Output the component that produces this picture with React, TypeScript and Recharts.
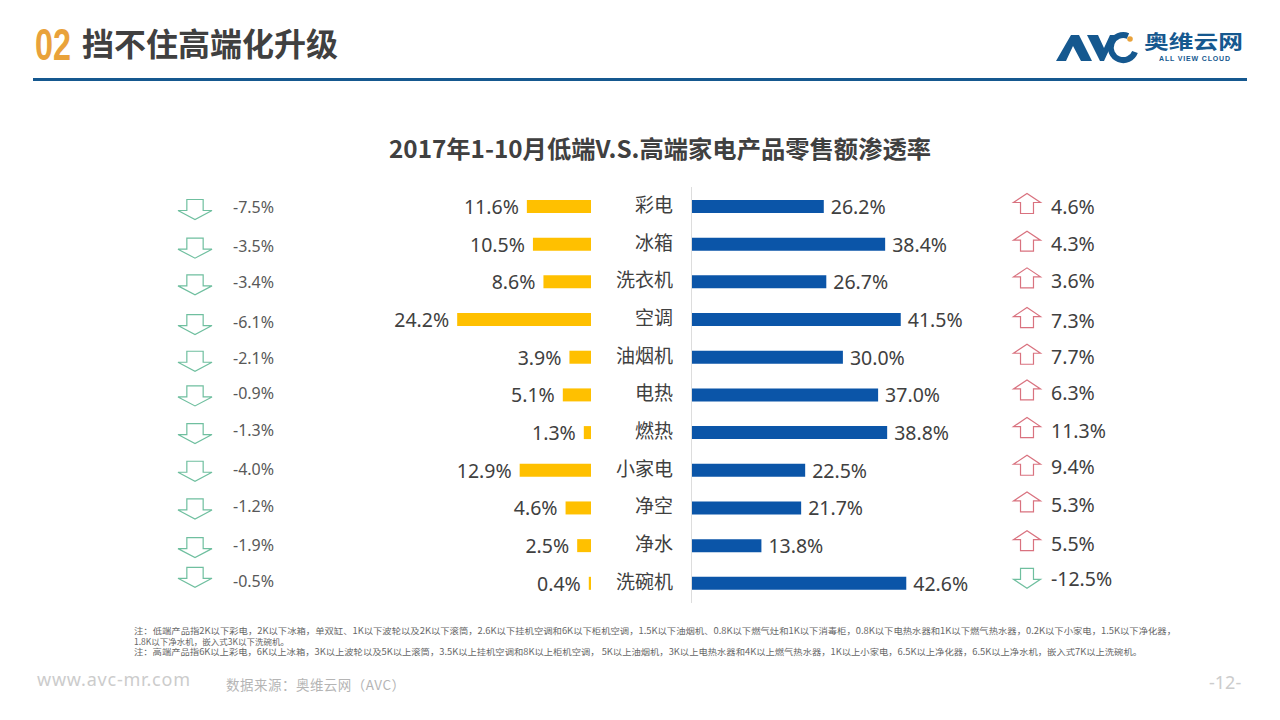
import React from "react";
import { BarChart, Bar, XAxis, YAxis, LabelList } from "recharts";

const categories = ["彩电", "冰箱", "洗衣机", "空调", "油烟机", "电热", "燃热", "小家电", "净空", "净水", "洗碗机"];
const lowShare = [11.6, 10.5, 8.6, 24.2, 3.9, 5.1, 1.3, 12.9, 4.6, 2.5, 0.4];
const highShare = [26.2, 38.4, 26.7, 41.5, 30.0, 37.0, 38.8, 22.5, 21.7, 13.8, 42.6];
const lowChange = [-7.5, -3.5, -3.4, -6.1, -2.1, -0.9, -1.3, -4.0, -1.2, -1.9, -0.5];
const highChange = [4.6, 4.3, 3.6, 7.3, 7.7, 6.3, 11.3, 9.4, 5.3, 5.5, -12.5];

const notes = [
  "注：低端产品指2K以下彩电，2K以下冰箱，单双缸、1K以下波轮以及2K以下滚筒，2.6K以下挂机空调和6K以下柜机空调，1.5K以下油烟机、0.8K以下燃气灶和1K以下消毒柜，0.8K以下电热水器和1K以下燃气热水器，0.2K以下小家电，1.5K以下净化器，",
  "1.8K以下净水机，嵌入式3K以下洗碗机。",
  "注：高端产品指6K以上彩电，6K以上冰箱，3K以上波轮以及5K以上滚筒，3.5K以上挂机空调和8K以上柜机空调，  5K以上油烟机，3K以上电热水器和4K以上燃气热水器，1K以上小家电，6.5K以上净化器，6.5K以上净水机，嵌入式7K以上洗碗机。",
];

const lowData = categories.map((name, i) => ({ name, share: lowShare[i], change: lowChange[i] }));
const highData = categories.map((name, i) => ({ name, share: highShare[i], change: highChange[i] }));

// Hand-placement drift of the slide's annotations, relative to each row centre.
const leftArrowDrift = [3, 4, 3, 5, 4, 1, 1, 1, 1, 2, -6];
const leftTextDrift = [1, 2, 1, 3, 1, -1, -2, -1, -1, 0, -2];
const rightArrowDrift = [-3, -3, -4, -2, -3, -5, -5, -5, -6, -5, -5];
const rightTextDrift = [0, 0, -1, 1, 0, -2, -2, -3, -3, -2, -4];

const FONT = '"Noto Sans", "Noto Sans CJK SC", sans-serif';
const CJK = '"Noto Sans CJK SC", sans-serif';
const INK = "#404040";
const UP = "#D9727F";
const DOWN = "#6FBF9F";

function Arrow({ cx, cy, up, w }: { cx: number; cy: number; up: boolean; w: number }) {
  const s = up ? -1 : 1;
  const hw = w / 2;
  const st = w * 0.24;
  const pts = [
    [cx - st, cy - 10 * s],
    [cx + st, cy - 10 * s],
    [cx + st, cy + 1 * s],
    [cx + hw, cy + 1 * s],
    [cx, cy + 10 * s],
    [cx - hw, cy + 1 * s],
    [cx - st, cy + 1 * s],
  ]
    .map((p) => p.join(","))
    .join(" ");
  return <polygon points={pts} fill="#fff" stroke={up ? UP : DOWN} strokeWidth={1.2} />;
}

const pct = (v: number) => `${v.toFixed(1)}%`;

function LeftValue(p: any) {
  const edge = Math.min(p.x, p.x + p.width);
  return (
    <text x={edge - 8} y={p.y + p.height / 2 + 7.5} textAnchor="end" fontFamily={FONT} fontSize={19.5} fill={INK}>
      {pct(p.value)}
    </text>
  );
}
function LeftChange(p: any) {
  const c = p.y + p.height / 2;
  return (
    <g>
      <Arrow cx={195} cy={c + leftArrowDrift[p.index]} up={false} w={34} />
      <text x={233} y={c + leftTextDrift[p.index] + 5.5} fontFamily={FONT} fontSize={16} fill="#595959">
        {pct(p.value)}
      </text>
    </g>
  );
}
function RightValue(p: any) {
  return (
    <text x={p.x + p.width + 7} y={p.y + p.height / 2 + 7.5} fontFamily={FONT} fontSize={19.5} fill={INK}>
      {pct(p.value)}
    </text>
  );
}
function RightChange(p: any) {
  const c = p.y + p.height / 2;
  return (
    <g>
      <Arrow cx={427} cy={c + rightArrowDrift[p.index]} up={p.value > 0} w={27} />
      <text x={451} y={c + rightTextDrift[p.index] + 7} fontFamily={FONT} fontSize={19.5} fill={INK}>
        {pct(p.value)}
      </text>
    </g>
  );
}
function CategoryTick(p: any) {
  return (
    <text x={73} y={p.y + 5} textAnchor="end" fontFamily={CJK} fontSize={19} fill={INK}>
      {p.payload.value}
    </text>
  );
}

function Decor() {
  return (
    <svg width={1280} height={720} style={{ position: "absolute", left: 0, top: 0 }}>
      <text x={35} y={60} fontFamily='"Liberation Sans Narrow", "Liberation Sans", sans-serif' fontWeight={700} fontSize={45} fill="#E9A23B" textLength={36} lengthAdjust="spacingAndGlyphs">
        02
      </text>
      <text x={82} y={56} fontFamily={CJK} fontWeight={700} fontSize={32} fill={INK}>
        挡不住高端化升级
      </text>
      <rect x={33} y={78} width={1214} height={3} fill="#15588F" />

      <polygon points="1056,61 1071,35 1079,35 1092,61 1081,61 1073,46 1066,61" fill="#15588F" />
      <polygon points="1087,35 1098,35 1104,48 1110,35 1116,35 1104,61 1100,61" fill="#15588F" />
      <path d="M1128 36 A 12.5 12.5 0 1 0 1135 52" fill="none" stroke="#15588F" strokeWidth={6} />
      <circle cx={1130} cy={39} r={2.8} fill="#E9A23B" />
      <text x={1144} y={49} fontFamily={CJK} fontWeight={700} fontSize={19} fill="#15588F" textLength={99} lengthAdjust="spacingAndGlyphs">
        奥维云网
      </text>
      <text x={1159} y={61} fontFamily='"Liberation Sans", sans-serif' fontWeight={700} fontSize={7} fill="#15588F" textLength={71}>
        ALL VIEW CLOUD
      </text>

      <text x={660} y={158} textAnchor="middle" fontFamily={CJK} fontWeight={700} fontSize={24.3} fill={INK}>
        2017年1-10月低端V.S.高端家电产品零售额渗透率
      </text>

      <line x1={691.5} y1={187} x2={691.5} y2={603} stroke="#DDDDDD" strokeWidth={1} />

      <text x={134} y={634} fontFamily={CJK} fontSize={8.5} fill="#666" textLength={1042} lengthAdjust="spacingAndGlyphs">
        {notes[0]}
      </text>
      <text x={134} y={645} fontFamily={CJK} fontSize={8.5} fill="#666">
        {notes[1]}
      </text>
      <text x={134} y={655} fontFamily={CJK} fontSize={8.5} fill="#666" textLength={1008} lengthAdjust="spacingAndGlyphs">
        {notes[2]}
      </text>

      <text x={37} y={686} fontFamily={FONT} fontSize={18} fill="#CCCCCC" textLength={153}>
        www.avc-mr.com
      </text>
      <text x={226} y={690} fontFamily={CJK} fontSize={13.5} fill="#B5B5B5" textLength={179}>
        数据来源：奥维云网（AVC）
      </text>
      <text x={1209} y={689} fontFamily={FONT} fontSize={18} fill="#CCCCCC">
        -12-
      </text>
    </svg>
  );
}

export default function App() {
  return (
    <div style={{ position: "absolute", left: 0, top: 0, width: 1280, height: 720, background: "#fff", overflow: "hidden" }}>
      <Decor />
      <div style={{ position: "absolute", left: 0, top: 187.66 }}>
        <BarChart width={591} height={414.5} data={lowData} layout="vertical" margin={{ top: 0, right: 0, bottom: 0, left: 314.5 }}>
          <XAxis type="number" domain={[0, 50]} reversed hide />
          <YAxis type="category" dataKey="name" hide />
          <Bar dataKey="share" fill="#FFC000" barSize={13} isAnimationActive={false}>
            <LabelList dataKey="share" content={LeftValue} />
            <LabelList dataKey="change" content={LeftChange} />
          </Bar>
        </BarChart>
      </div>
      <div style={{ position: "absolute", left: 600, top: 187.66 }}>
        <BarChart width={680} height={414.5} data={highData} layout="vertical" margin={{ top: 0, right: 336.5, bottom: 0, left: 0 }}>
          <XAxis type="number" domain={[0, 50]} hide />
          <YAxis type="category" dataKey="name" width={92} interval={0} axisLine={false} tickLine={false} tick={CategoryTick} />
          <Bar dataKey="share" fill="#0B55A8" barSize={13} isAnimationActive={false}>
            <LabelList dataKey="share" content={RightValue} />
            <LabelList dataKey="change" content={RightChange} />
          </Bar>
        </BarChart>
      </div>
    </div>
  );
}
